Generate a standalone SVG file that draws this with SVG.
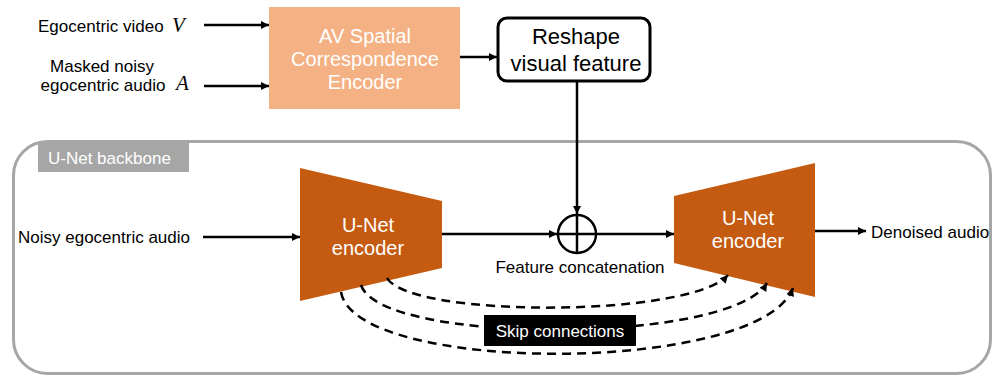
<svg xmlns="http://www.w3.org/2000/svg" width="993" height="376" viewBox="0 0 993 376">
<defs>
<marker id="ah" viewBox="0 0 10 10" refX="10" refY="5" markerWidth="10" markerHeight="8" orient="auto" markerUnits="userSpaceOnUse"><path d="M0,0 L10,5 L0,10 z" fill="#000"/></marker>
<style>
.t{font-family:"Liberation Sans",Arial,sans-serif;fill:#000}
.w{font-family:"Liberation Sans",Arial,sans-serif;fill:#fff}
.m{font-family:"Liberation Serif","Times New Roman",serif;font-style:italic;font-size:21px;fill:#000}
.ln{stroke:#000;stroke-width:2.5;fill:none}
.dash{stroke:#000;stroke-width:2.5;fill:none;stroke-dasharray:9 6}
.trap{fill:#C55A11}
</style>
</defs>
<rect width="993" height="376" fill="#fff"/>

<g id="backbone">
<rect x="13.5" y="141.5" width="977" height="232" rx="34" ry="34" fill="none" stroke="#A6A6A6" stroke-width="3"/>
<rect x="38" y="143" width="151" height="29" fill="#A6A6A6"/>
<text class="w" x="48" y="164" font-size="17">U-Net backbone</text>
</g>

<g id="input-labels">
<text class="t" x="38" y="32" font-size="17">Egocentric video</text>
<text class="m" x="172" y="32">V</text>
<text class="t" x="102" y="72" font-size="17" text-anchor="middle">Masked noisy</text>
<text class="t" x="103" y="91" font-size="17" text-anchor="middle">egocentric audio</text>
<text class="m" x="176" y="90">A</text>
<text class="t" x="18" y="243" font-size="17">Noisy egocentric audio</text>
</g>

<g id="av-encoder">
<rect x="269" y="7" width="191" height="102" fill="#F4B183"/>
<text class="w" x="365" y="43" font-size="20" text-anchor="middle">AV Spatial</text>
<text class="w" x="365" y="66" font-size="20" text-anchor="middle">Correspondence</text>
<text class="w" x="365" y="89" font-size="20" text-anchor="middle">Encoder</text>
</g>

<g id="reshape">
<rect x="498" y="18" width="152" height="63" rx="9" ry="9" fill="#fff" stroke="#000" stroke-width="3"/>
<text class="t" x="576" y="44" font-size="22" text-anchor="middle">Reshape</text>
<text class="t" x="576" y="71" font-size="22" text-anchor="middle">visual feature</text>
</g>

<g id="unet-encoder-1">
<polygon class="trap" points="300,168 442,201 442,268 300,301"/>
<text class="w" x="368" y="232" font-size="20" text-anchor="middle">U-Net</text>
<text class="w" x="368" y="255" font-size="20" text-anchor="middle">encoder</text>
</g>

<g id="concat">
<circle cx="577" cy="234" r="19" fill="#fff" stroke="#000" stroke-width="2.5"/>
<line x1="558" y1="234" x2="596" y2="234" stroke="#000" stroke-width="2.5"/>
<line x1="577" y1="215" x2="577" y2="253" stroke="#000" stroke-width="2.5"/>
<text class="t" x="580" y="273" font-size="17" text-anchor="middle">Feature concatenation</text>
</g>

<g id="unet-encoder-2">
<polygon class="trap" points="674,196 815,163 815,297 674,263"/>
<text class="w" x="748" y="225" font-size="20" text-anchor="middle">U-Net</text>
<text class="w" x="748" y="248" font-size="20" text-anchor="middle">encoder</text>
</g>

<g id="output-label">
<text class="t" x="871" y="238" font-size="17">Denoised audio</text>
</g>

<g id="connectors">
<line class="ln" x1="204" y1="25" x2="269" y2="25" marker-end="url(#ah)"/>
<line class="ln" x1="204" y1="86" x2="269" y2="86" marker-end="url(#ah)"/>
<line class="ln" x1="460" y1="57" x2="497" y2="57" marker-end="url(#ah)"/>
<line class="ln" x1="577" y1="82" x2="577" y2="214" marker-end="url(#ah)"/>
<line class="ln" x1="203" y1="237" x2="300" y2="237" marker-end="url(#ah)"/>
<line class="ln" x1="442" y1="234" x2="557" y2="234" marker-end="url(#ah)"/>
<line class="ln" x1="596" y1="234" x2="674" y2="234" marker-end="url(#ah)"/>
<line class="ln" x1="815" y1="231" x2="866" y2="231" marker-end="url(#ah)"/>
<path class="dash" d="M387,278 C410,318 690,318 728,275" marker-end="url(#ah)"/>
<path class="dash" d="M361,285 C380,345 730,345 767,283" marker-end="url(#ah)"/>
<path class="dash" d="M341,292 C355,375 760,375 793,288" marker-end="url(#ah)"/>
</g>

<g id="skip-label">
<rect x="484" y="315" width="152" height="31" fill="#000"/>
<text class="w" x="560" y="337" font-size="17" text-anchor="middle">Skip connections</text>
</g>
</svg>
